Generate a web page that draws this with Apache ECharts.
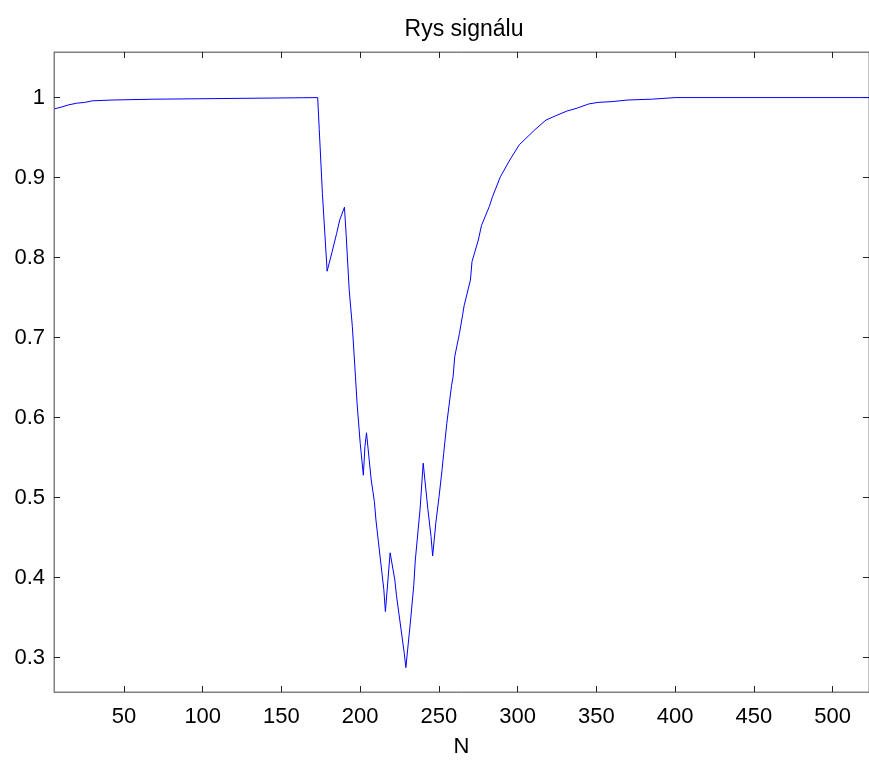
<!DOCTYPE html>
<html>
<head>
<meta charset="utf-8">
<script src="https://cdn.jsdelivr.net/npm/echarts@6/dist/echarts.min.js"></script>
<style>html,body{margin:0;padding:0;background:#fff;}#c{width:869px;height:760px;}</style>
</head>
<body>
<div id="c"></div>
<script>
const titleText = 'Rys signálu';
const xName = 'N';
const sampleN = [6,10,15,20,25,30,43,44,69,70,173,174,176,179,182,185,187,190,191,193,195,197,198,200,202,203,204,207,209,210,215,216,219,222,223,228,229,232,234,235,238,240,243,245,246,248,250,252,253,255,258,259,260,263,265,266,270,271,275,277,282,284,289,295,301,311,318,325,331,338,345,351,360,370,385,400,523];
const signalV = [0.986,0.988,0.991,0.993,0.994,0.996,0.997,0.998,0.998,1.0,1.0,0.96,0.88,0.783,0.806,0.83,0.847,0.863,0.831,0.76,0.714,0.651,0.618,0.568,0.528,0.564,0.581,0.522,0.495,0.472,0.385,0.3575,0.431,0.397,0.378,0.305,0.2875,0.347,0.39,0.422,0.485,0.543,0.485,0.451,0.427,0.468,0.50,0.535,0.555,0.593,0.64,0.651,0.676,0.705,0.728,0.74,0.772,0.795,0.822,0.84,0.864,0.876,0.901,0.922,0.941,0.96,0.972,0.978,0.983,0.987,0.992,0.994,0.995,0.997,0.998,1.0,1.0];
const xTicks = [50,100,150,200,250,300,350,400,450,500];
const yTicks = [0.3,0.4,0.5,0.6,0.7,0.8,0.9,1];

const xMin = 5.55, xMax = 523.1, yMin = 0.257, yMax = 1.057;
const font = 'Liberation Sans, Arial, Helvetica, sans-serif';
const tickStyle = {show:true, inside:true, length:6, lineStyle:{color:'#222', width:1}};

const chart = echarts.init(document.getElementById('c'), null, {renderer:'canvas'});
chart.setOption({
  animation:false,
  backgroundColor:'#fff',
  title:{text:titleText, left:459, top:13, textAlign:'center',
    textStyle:{fontFamily:font, fontSize:23, fontWeight:'normal', color:'#000'}},
  grid:{left:54, top:52, right:0, bottom:68, show:true, borderColor:'#808080', borderWidth:1,
    containLabel:false, outerBoundsMode:'none'},
  xAxis:[
    {type:'value', min:xMin, max:xMax, position:'bottom',
     name:xName, nameLocation:'middle', nameGap:44,
     nameTextStyle:{fontFamily:font, fontSize:22, color:'#000'},
     axisLine:{show:true, lineStyle:{color:'#808080'}},
     axisTick:Object.assign({customValues:xTicks}, tickStyle),
     axisLabel:{customValues:xTicks, margin:14, fontFamily:font, fontSize:22, color:'#000'},
     splitLine:{show:false}},
    {type:'value', min:xMin, max:xMax, position:'top',
     axisLine:{show:true, lineStyle:{color:'#808080'}},
     axisTick:Object.assign({customValues:xTicks}, tickStyle),
     axisLabel:{show:false}, splitLine:{show:false}}
  ],
  yAxis:[
    {type:'value', min:yMin, max:yMax, position:'left',
     axisLine:{show:true, lineStyle:{color:'#808080'}},
     axisTick:Object.assign({customValues:yTicks}, tickStyle),
     axisLabel:{customValues:yTicks, margin:9, fontFamily:font, fontSize:22, color:'#000',
       formatter:v=>String(Math.round(v*10)/10)},
     splitLine:{show:false}},
    {type:'value', min:yMin, max:yMax, position:'right',
     axisLine:{show:true, lineStyle:{color:'#808080'}},
     axisTick:Object.assign({customValues:yTicks}, tickStyle),
     axisLabel:{show:false}, splitLine:{show:false}}
  ],
  series:[{
    type:'line', xAxisIndex:0, yAxisIndex:0,
    data: sampleN.map((n,i)=>[n, signalV[i]]),
    showSymbol:false, symbol:'none',
    lineStyle:{color:'#0000ff', width:1},
    clip:true
  }]
});
</script>
</body>
</html>
